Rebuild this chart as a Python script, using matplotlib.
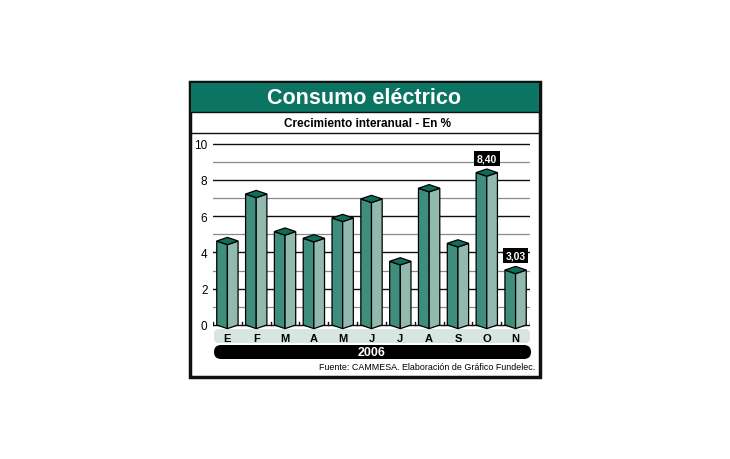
import matplotlib
matplotlib.use('Agg')
import matplotlib.pyplot as plt
from matplotlib.patches import Polygon, Rectangle, FancyBboxPatch

# datos
meses = ['E', 'F', 'M', 'A', 'M', 'J', 'J', 'A', 'S', 'O', 'N']
crecimiento = [4.63, 7.22, 5.15, 4.78, 5.90, 6.95, 3.51, 7.54, 4.50, 8.40, 3.03]
etiquetas = {9: '8,40', 10: '3,03'}
anio = '2006'
titulo = 'Consumo eléctrico'
subtitulo = 'Crecimiento interanual - En %'
fuente = 'Fuente: CAMMESA. Elaboración de Gráfico Fundelec.'

SANS = ['Liberation Sans', 'DejaVu Sans']
VERDE = '#0b7462'
FRENTE = '#3f8e7d'
LADO = '#92b9ae'
TAPA = '#0f6e5b'

W, H = 730, 460
fig = plt.figure(figsize=(W / 100, H / 100), dpi=100)

# capa de fondo en pixeles
bg = fig.add_axes([0, 0, 1, 1])
bg.set_xlim(0, W)
bg.set_ylim(H, 0)
bg.axis('off')

bg.add_patch(Rectangle((190, 83), 350, 295, facecolor='white', edgecolor='#111111', lw=2.5, zorder=1))
bg.add_patch(Rectangle((191, 84), 348, 29, facecolor=VERDE, edgecolor='none', zorder=2))
bg.plot([191, 539], [113, 113], color='#111111', lw=1, zorder=3)
bg.plot([191, 539], [134, 134], color='#111111', lw=1, zorder=3)
bg.text(364, 99, titulo, ha='center', va='center', color='white', fontsize=15.5,
        fontweight='bold', family=SANS, zorder=4)
bg.text(367, 124, subtitulo, ha='center', va='center', color='black', fontsize=8.5,
        fontweight='bold', family=SANS, zorder=4)

# franja de meses y banda del año
bg.add_patch(FancyBboxPatch((214, 330), 316, 14, boxstyle='round,pad=0,rounding_size=5',
                            facecolor='#d8e6e2', edgecolor='none', zorder=2))
bg.add_patch(FancyBboxPatch((214, 346), 317, 14, boxstyle='round,pad=0,rounding_size=7',
                            facecolor='black', edgecolor='none', zorder=2))
bg.text(372, 353.5, anio, ha='center', va='center', color='white', fontsize=9,
        fontweight='bold', family=SANS, zorder=4)
bg.text(535, 368, fuente, ha='right', va='center', color='black', fontsize=6.4,
        family=SANS, zorder=4)

# grafico de barras
px_unit = 18.14
y0_px = 326
ymin, ymax = -0.3, 10.05
bottom_px = y0_px - ymin * px_unit
top_px = y0_px - ymax * px_unit
ax = fig.add_axes([213 / W, (H - bottom_px) / H, 317 / W, (bottom_px - top_px) / H])
ax.set_xlim(-0.5, len(meses) - 0.5)
ax.set_ylim(ymin, ymax)
ax.patch.set_alpha(0)
for s in ax.spines.values():
    s.set_visible(False)

for v in range(1, 11):
    if v % 2 == 0:
        ax.axhline(v, color='#111111', lw=1.0, zorder=1)
    else:
        ax.axhline(v, color='#8a8a8a', lw=0.9, zorder=1)
ax.axhline(0, color='#111111', lw=1.0, zorder=1)
for i in range(len(meses) + 1):
    ax.plot([i - 0.5, i - 0.5], [0, 0.18], color='#111111', lw=1.0, zorder=1)

hw, dy = 0.37, 0.2
for i, v in enumerate(crecimiento):
    izq = [(i - hw, 0), (i - hw, v), (i, v - dy), (i, -dy)]
    der = [(i, -dy), (i, v - dy), (i + hw, v), (i + hw, 0)]
    tapa = [(i - hw, v), (i, v - dy), (i + hw, v), (i, v + dy)]
    ax.add_patch(Polygon(izq, closed=True, facecolor=FRENTE, edgecolor='black', lw=0.9, zorder=3))
    ax.add_patch(Polygon(der, closed=True, facecolor=LADO, edgecolor='black', lw=0.9, zorder=3))
    ax.add_patch(Polygon(tapa, closed=True, facecolor=TAPA, edgecolor='black', lw=0.9, zorder=4))
    if i in etiquetas:
        ax.text(i, v + 0.8, etiquetas[i], ha='center', va='center', color='white',
                fontsize=7.5, fontweight='bold', family=SANS, zorder=5,
                bbox=dict(boxstyle='square,pad=0.25', facecolor='black', edgecolor='none'))

ax.set_yticks(range(0, 11, 2))
ax.set_yticklabels([str(t) for t in range(0, 11, 2)], family=SANS, fontsize=8.5)
ax.tick_params(axis='y', length=0, pad=4)
ax.set_xticks(range(len(meses)))
ax.set_xticklabels(meses, family=SANS, fontweight='bold', fontsize=8)
ax.tick_params(axis='x', length=0, pad=2)

fig.savefig('out.png', dpi=100)
